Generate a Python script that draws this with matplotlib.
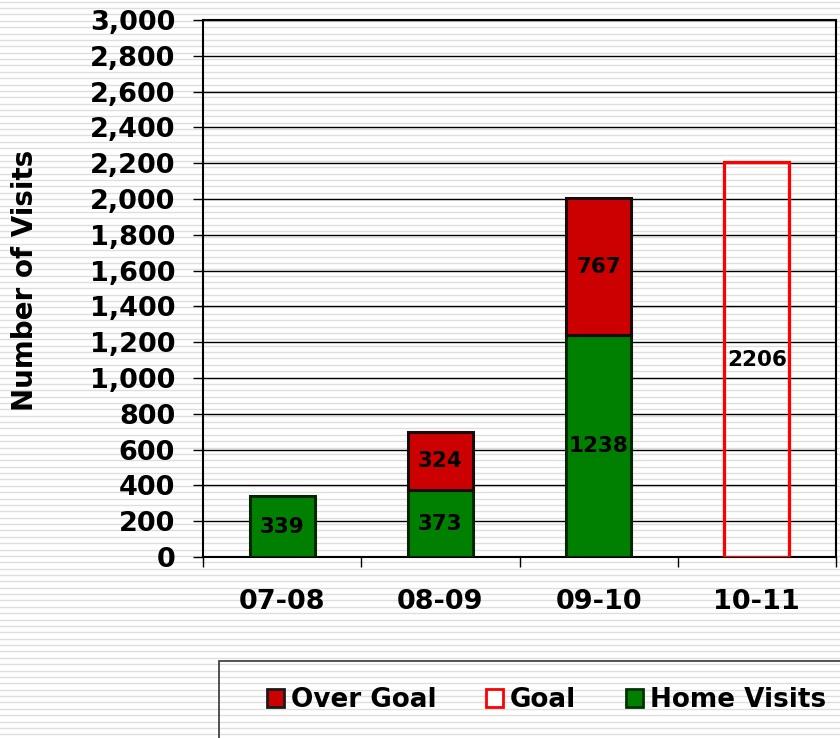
import matplotlib
matplotlib.use('Agg')
import matplotlib.pyplot as plt
from matplotlib.patches import Rectangle, Patch
from matplotlib.ticker import FuncFormatter, FixedLocator
import numpy as np

# ---- data ----
categories = ['07-08', '08-09', '09-10', '10-11']
home_visits = [339, 373, 1238, None]
over_goal = [None, 324, 767, None]
goal = [None, None, None, 2206]
y_ticks = list(range(0, 3001, 200))

W, H = 840, 738
fig = plt.figure(figsize=(W / 100, H / 100), dpi=100)
plt.rcParams['font.family'] = ['DejaVu Sans']

# striped background
bg = fig.add_axes([0, 0, 1, 1])
bg.set_xlim(0, W)
bg.set_ylim(H, 0)
bg.axis('off')
bg.set_zorder(-10)
for yy in np.arange(1.7, H, 6.37):
    bg.axhline(yy, color='#dedede', lw=1.0)

ax = fig.add_axes([203 / W, 1 - 557 / H, (836 - 203) / W, (557 - 20) / H])
ax.set_facecolor('none')
x = np.arange(len(categories))
bw = 0.41
FS = 19.5
LFS = 15.5

for i, (h, o, g) in enumerate(zip(home_visits, over_goal, goal)):
    if h is not None:
        ax.bar(x[i], h, bw, color='#008000', edgecolor='#002800', lw=2.2, zorder=3)
        ax.text(x[i], h / 2, str(h), ha='center', va='center', fontsize=LFS,
                fontweight='bold', color='black', zorder=5)
    if o is not None:
        base = h if h is not None else 0
        ax.bar(x[i], o, bw, bottom=base, color='#CC0000', edgecolor='#1a0a0a', lw=2.2, zorder=3)
        ax.text(x[i], base + o / 2, str(o), ha='center', va='center', fontsize=LFS,
                fontweight='bold', color='black', zorder=5)
    if g is not None:
        ax.bar(x[i], g, bw, facecolor='none', edgecolor='#FF0000', lw=2.3, zorder=3)
        ax.text(x[i], g / 2, str(g), ha='center', va='center', fontsize=LFS,
                fontweight='bold', color='black', zorder=5)

ax.set_xlim(-0.5, len(categories) - 0.5)
ax.set_ylim(0, 3000)
ax.set_yticks(y_ticks)
ax.yaxis.set_major_formatter(FuncFormatter(lambda v, p: f'{int(v):,}'))
ax.yaxis.grid(True, color='black', lw=1.0, zorder=1)
ax.set_axisbelow(True)

ax.set_xticks(x)
ax.set_xticklabels(categories)
ax.xaxis.set_minor_locator(FixedLocator(np.arange(-0.5, len(categories), 1.0)))
ax.tick_params(axis='x', which='major', length=0, pad=23, labelsize=FS)
ax.tick_params(axis='x', which='minor', length=7, width=1.0, direction='out', color='black')
ax.tick_params(axis='y', length=7, width=1.0, direction='out', pad=13, labelsize=FS)
for lab in ax.get_xticklabels() + ax.get_yticklabels():
    lab.set_fontweight('bold')

for s in ax.spines.values():
    s.set_linewidth(1.5)
    s.set_color('black')

fig.text(25 / W, 1 - 280 / H, 'Number of Visits', rotation=90, ha='center', va='center',
         fontsize=20, fontweight='bold')

# legend frame
fig.add_artist(Rectangle((219 / W, -0.1), 1.0, (1 - 661 / H) + 0.1, transform=fig.transFigure,
                         fill=False, edgecolor='#333333', lw=1.2))
handles = [Patch(facecolor='#CC0000', edgecolor='#1a1a1a', lw=2),
           Patch(facecolor='white', edgecolor='#FF0000', lw=2),
           Patch(facecolor='#008000', edgecolor='#003300', lw=2)]
labels = ['Over Goal', 'Goal', 'Home Visits']
fig.legend(handles, labels, loc='center left', bbox_to_anchor=(267 / W, 1 - 700 / H), ncol=3,
           frameon=False, prop={'size': 18.9, 'weight': 'bold'}, handlelength=0.65,
           handleheight=0.65, handletextpad=0.25, columnspacing=1.9, borderpad=0,
           borderaxespad=0)

fig.savefig('out.png', dpi=100)
